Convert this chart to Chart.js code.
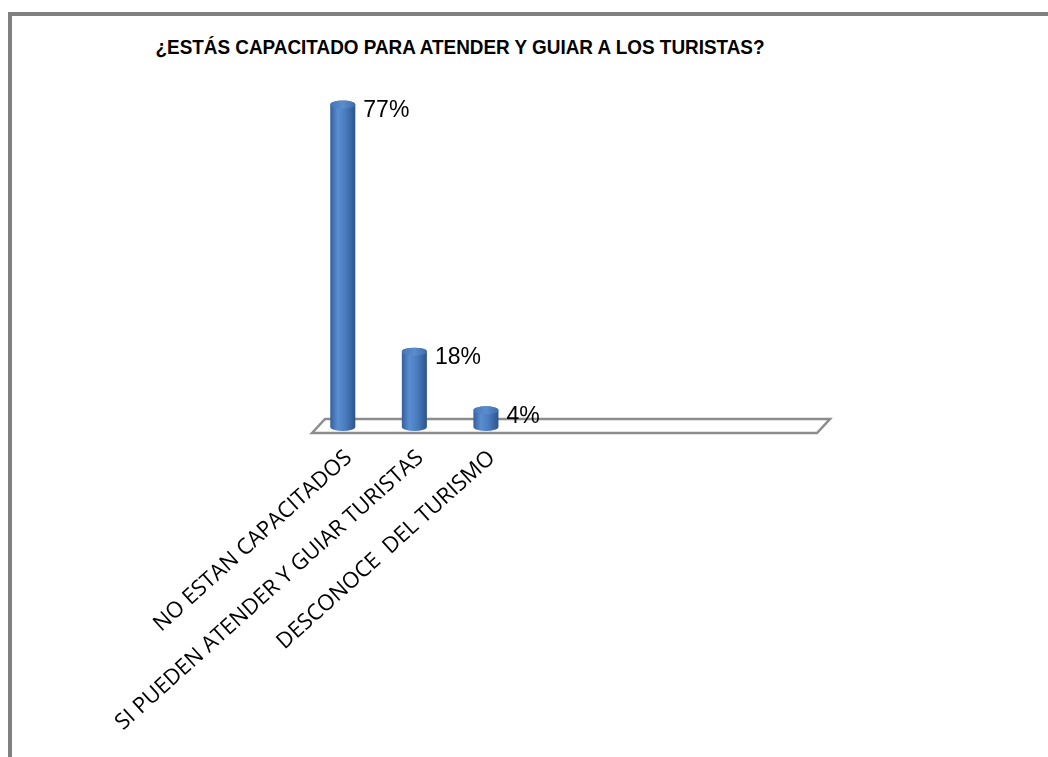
<!DOCTYPE html>
<html>
<head>
<meta charset="utf-8">
<script src="https://cdn.jsdelivr.net/npm/chart.js@4"></script>
<style>
  html, body { margin: 0; padding: 0; background: #fff; }
  #wrap { position: relative; width: 1048px; height: 757px; overflow: hidden; }
  #frame { position: absolute; left: 8px; top: 12px; width: 1100px; height: 800px;
           border-left: 4px solid #808080; border-top: 4px solid #808080; }
  #title { position: absolute; top: 35px; left: 0; width: 920px; text-align: center;
           font: bold 21px 'Liberation Sans', Arial, sans-serif; color: #000;
           transform: scaleX(0.9); transform-origin: 460px 0; }
  canvas { position: absolute; left: 0; top: 0; }
</style>
</head>
<body>
<div id="wrap">
  <div id="frame"></div>
  <div id="title">¿ESTÁS CAPACITADO PARA ATENDER Y GUIAR A LOS TURISTAS?</div>
  <canvas id="chart" width="1048" height="757"></canvas>
</div>
<script>
// data (empty slots keep the long floor of the original)
const categories = ['NO ESTAN CAPACITADOS', 'SI PUEDEN ATENDER Y GUIAR TURISTAS', 'DESCONOCE  DEL TURISMO', '', '', '', ''];
const percentages = [77, 18, 4];
const valueLabels = ['77%', '18%', '4%'];

// grey floor under the bars
const floorPlugin = {
  id: 'floor',
  beforeDatasetsDraw(chart) {
    const { ctx, chartArea: a } = chart;
    const y0 = chart.scales.y.getPixelForValue(0);
    ctx.save();
    ctx.beginPath();
    ctx.moveTo(a.left + 5, y0 + 6);
    ctx.lineTo(a.left + 18, y0 - 8);
    ctx.lineTo(a.right + 22, y0 - 8);
    ctx.lineTo(a.right + 9, y0 + 6);
    ctx.closePath();
    ctx.fillStyle = '#fff';
    ctx.fill();
    ctx.lineWidth = 2.5;
    ctx.strokeStyle = '#8c8c8c';
    ctx.stroke();
    ctx.restore();
  }
};

// draws a cylinder where each (invisible) bar sits, plus its % label
const cylinderPlugin = {
  id: 'cylinders',
  afterDatasetsDraw(chart) {
    const ctx = chart.ctx;
    const meta = chart.getDatasetMeta(0);
    meta.data.forEach((bar, i) => {
      const { x, y, base, width } = bar.getProps(['x', 'y', 'base', 'width'], true);
      const rx = width / 2, ry = 4;
      const l = x - rx, r = x + rx;
      ctx.save();
      const g = ctx.createLinearGradient(l, 0, r, 0);
      g.addColorStop(0, '#34609c');
      g.addColorStop(0.3, '#5a8ed0');
      g.addColorStop(0.6, '#4a7dc0');
      g.addColorStop(1, '#2c548a');
      ctx.beginPath();
      ctx.moveTo(l, y);
      ctx.lineTo(l, base);
      ctx.ellipse(x, base, rx, ry, 0, Math.PI, 0, true);
      ctx.lineTo(r, y);
      ctx.ellipse(x, y, rx, ry, 0, 0, Math.PI, true);
      ctx.closePath();
      ctx.fillStyle = g;
      ctx.fill();
      const tg = ctx.createLinearGradient(l, 0, r, 0);
      tg.addColorStop(0, '#4676b8');
      tg.addColorStop(0.5, '#5b8ccc');
      tg.addColorStop(1, '#3f6dab');
      ctx.beginPath();
      ctx.ellipse(x, y, rx, ry, 0, 0, Math.PI * 2);
      ctx.fillStyle = tg;
      ctx.fill();
      ctx.fillStyle = '#000';
      ctx.font = '23px "Liberation Sans", Arial, sans-serif';
      ctx.textAlign = 'left';
      ctx.textBaseline = 'middle';
      ctx.fillText(valueLabels[i], r + 8, y + 6);
      ctx.restore();
    });
  }
};

new Chart(document.getElementById('chart'), {
  type: 'bar',
  data: {
    labels: categories,
    datasets: [{
      data: percentages,
      backgroundColor: 'rgba(0,0,0,0)',
      borderWidth: 0,
      barPercentage: 0.35,
      categoryPercentage: 1
    }]
  },
  options: {
    responsive: false,
    animation: false,
    layout: { padding: { left: 307, right: 240, top: 92, bottom: 0 } },
    plugins: { legend: { display: false }, tooltip: { enabled: false } },
    scales: {
      y: { display: false, min: 0, max: 80 },
      x: {
        grid: { display: false },
        border: { display: false },
        ticks: {
          autoSkip: false,
          minRotation: 42,
          maxRotation: 42,
          color: '#000',
          padding: 10,
          labelOffset: 6,
          font: { family: "'Open Sans', sans-serif", size: 22 }
        },
        afterFit(scale) { scale.height = 330; }
      }
    }
  },
  plugins: [floorPlugin, cylinderPlugin]
});
</script>
</body>
</html>
